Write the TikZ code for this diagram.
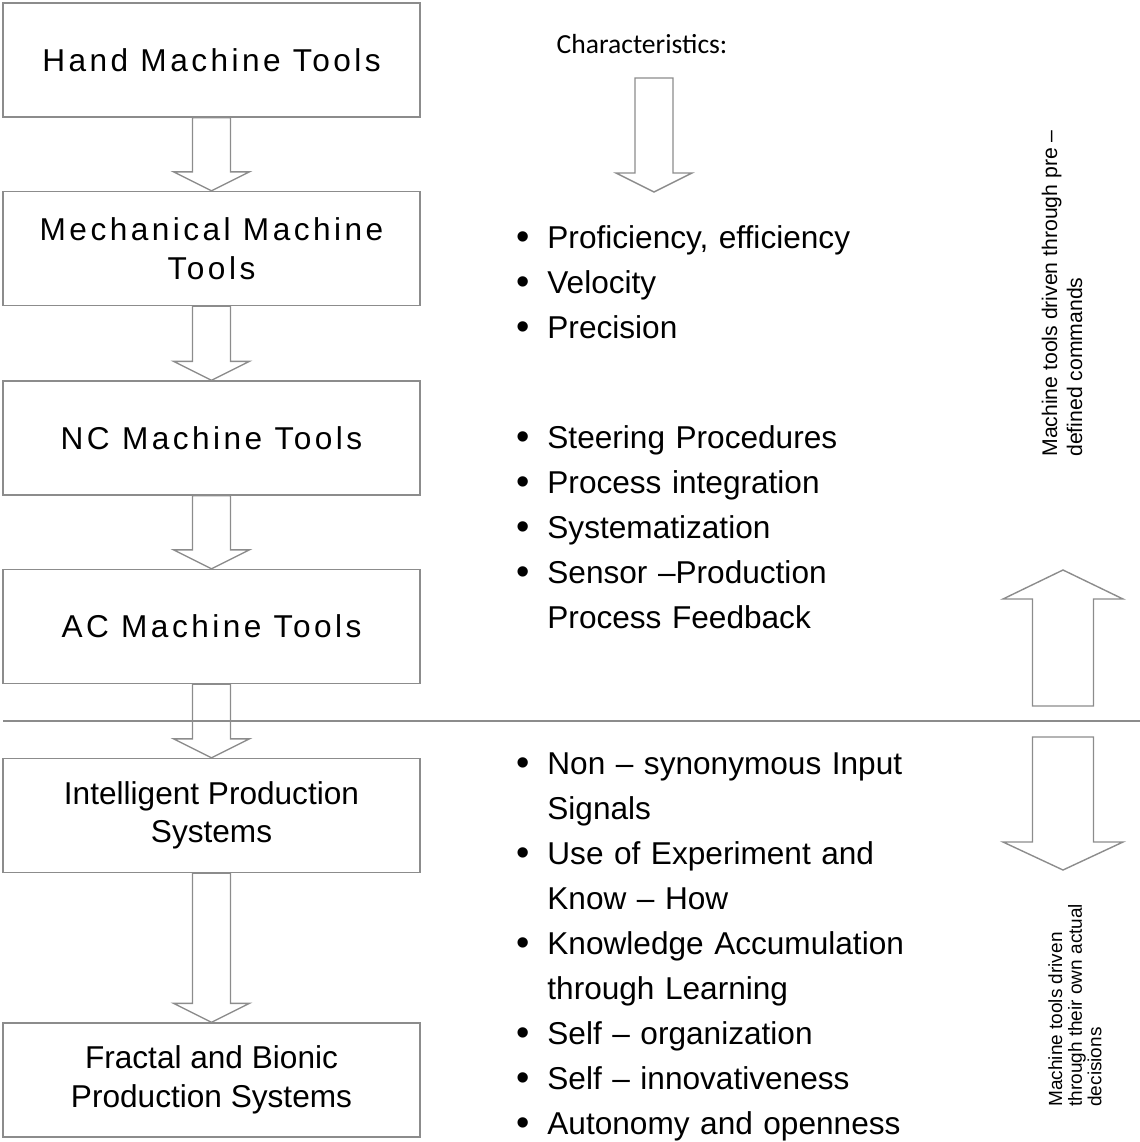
\documentclass[tikz,border=0pt]{standalone}
\usepackage{fontspec}
\usetikzlibrary{calc}
\newfontfamily\arial{Liberation Sans}
\newfontfamily\arialsp[LetterSpace=11]{Liberation Sans}
\newfontfamily\calibri{Carlito}
\definecolor{linegray}{gray}{0.55}

% bullet line with hanging indent
\newcommand{\bitem}[1]{\hangindent=15.5pt\hangafter=1\noindent\makebox[15.5pt][l]{\raisebox{-0.8pt}{\fontsize{19}{19}\selectfont\textbullet}}#1\par}
\newcommand{\brk}{\hfil\break}
% block arrow pointing down / up: from #1 to tip #2, half shaft #3, half head #4, head length #5
\newcommand{\blockdown}[5]{%
  \draw[blk] ($(#1)+(-#3,0)$) -- ($(#2)+(-#3,-#5)$) -- ($(#2)+(-#4,-#5)$) -- (#2)
    -- ($(#2)+(#4,-#5)$) -- ($(#2)+(#3,-#5)$) -- ($(#1)+(#3,0)$) -- cycle;}
\newcommand{\blockup}[5]{%
  \draw[blk] ($(#1)+(-#3,0)$) -- ($(#2)+(-#3,#5)$) -- ($(#2)+(-#4,#5)$) -- (#2)
    -- ($(#2)+(#4,#5)$) -- ($(#2)+(#3,#5)$) -- ($(#1)+(#3,0)$) -- cycle;}

\begin{document}
\begin{tikzpicture}[
  x=0.5pt, y=-0.5pt,
  stagebox/.style={draw=linegray, line width=0.7pt, minimum width=208.5pt, minimum height=57pt, inner sep=0pt, align=center, font=\arial\fontsize{15.8}{19.3}\selectfont},
  spaced/.style={font=\arialsp\fontsize{15.8}{19.3}\selectfont},
  bullets/.style={anchor=base west, inner sep=0pt, text width=215pt, align=left, font=\arial\fontsize{15.8}{22.5}\selectfont},
  sidenote/.style={rotate=90, anchor=west, inner sep=0pt, align=left},
  blk/.style={draw=linegray, line width=0.7pt, line join=miter}
]
\useasboundingbox (0,0) rectangle (1140,1142);

% Stages
\node[stagebox, spaced] (hand) at (211.5,60) {Hand Machine Tools};
\node[stagebox, spaced] (mech) at (211.5,248.5) {Mechanical Machine\\Tools};
\node[stagebox, spaced] (nc) at (211.5,438) {NC Machine Tools};
\node[stagebox, spaced] (ac) at (211.5,626.5) {AC Machine Tools};
\node[stagebox] (ips) at (211.5,815.5) {Intelligent Production\\Systems};
\node[stagebox] (fbps) at (211.5,1080) {Fractal and Bionic\\Production Systems};

% Arrows between stages
\blockdown{hand.south}{mech.north}{19}{38}{19}
\blockdown{mech.south}{nc.north}{19}{38}{19}
\blockdown{nc.south}{ac.north}{19}{38}{19}
\blockdown{ac.south}{ips.north}{19}{38}{19}
\blockdown{ips.south}{fbps.north}{19}{38}{19}

% Divider
\coordinate (divl) at (3,721);
\coordinate (divr) at (1140,721);
\draw[linegray, line width=0.7pt] (divl) -- (divr);

% Characteristics
\node[font=\calibri\fontsize{13.8}{16}\selectfont, anchor=base, inner sep=0pt] (chars) at (642,53) {Characteristics:};
\coordinate (chartop) at (654,78);
\coordinate (chartip) at (654,192);
\blockdown{chartop}{chartip}{19}{38}{19}

\node[bullets] (mechlist) at (516,248) {%
  \bitem{Proficiency, efficiency}
  \bitem{Velocity}
  \bitem{Precision}};
\node[bullets] (nclist) at (516,448) {%
  \bitem{Steering Procedures}
  \bitem{Process integration}
  \bitem{Systematization}
  \bitem{Sensor –Production\brk Process Feedback}};
\node[bullets] (ipslist) at (516,774) {%
  \bitem{Non – synonymous Input\brk Signals}
  \bitem{Use of Experiment and\brk Know – How}
  \bitem{Knowledge Accumulation\brk through Learning}
  \bitem{Self – organization}
  \bitem{Self – innovativeness}
  \bitem{Autonomy and openness}};

% Side arrows and notes
\coordinate (upbase) at (1063,706);
\coordinate (uptip) at (1063,570);
\blockup{upbase}{uptip}{30.5}{60}{29}
\coordinate (downtop) at (1063,737);
\coordinate (downtip) at (1063,870);
\blockdown{downtop}{downtip}{30.5}{60}{28}

\node[sidenote, font=\arial\fontsize{10.6}{12.5}\selectfont] (prenote) at (1062,457) {Machine tools driven through pre –\\defined commands};
\node[sidenote, font=\arial\fontsize{9.5}{9.8}\selectfont] (ownnote) at (1075,1107) {Machine tools driven\\through their own actual\\decisions};

\end{tikzpicture}
\end{document}
